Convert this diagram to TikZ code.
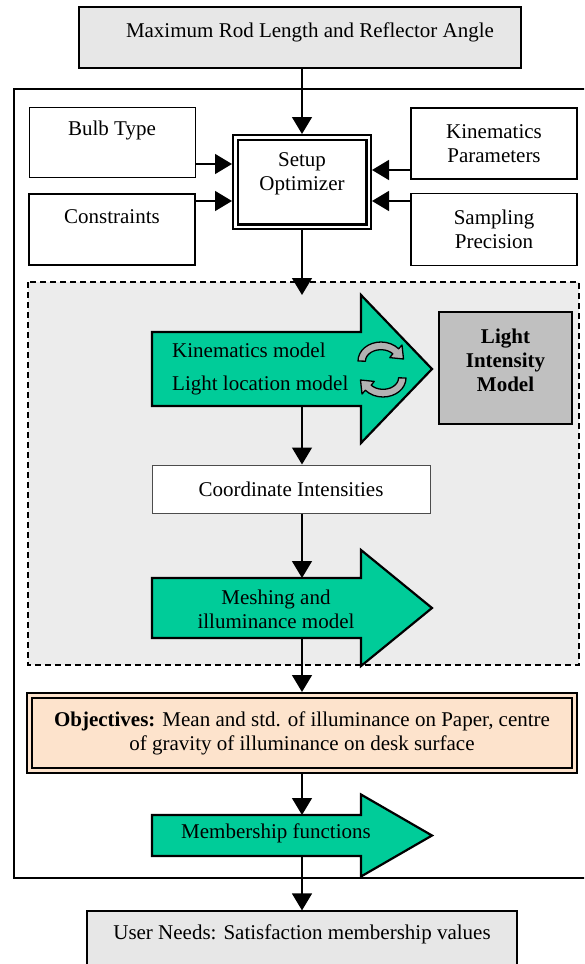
\documentclass[tikz,border=0pt]{standalone}
\usepackage{fontspec}
\setmainfont{Liberation Serif}
\usetikzlibrary{arrows.meta}

\definecolor{flowgreen}{RGB}{0,204,153}
\definecolor{panelgray}{RGB}{236,236,236}
\definecolor{inputgray}{RGB}{231,231,231}
\definecolor{modelgray}{RGB}{192,192,192}
\definecolor{peach}{RGB}{253,227,204}

\tikzset{
  every node/.style={font=\fontsize{21}{24}\selectfont, align=center},
  box/.style={draw, line width=1.5pt, inner sep=0pt},
  link/.style={line width=1.5pt, -{Triangle[width=20pt,length=17pt]}},
  blockarrow/.style={draw, fill=flowgreen, line width=2.2pt, line join=miter},
  rotsign/.pic={
    \filldraw[fill=gray!60, line width=1.3pt, line join=round]
      (-23,0) arc[start angle=180, end angle=320, x radius=23, y radius=19]
      -- (21,-16) -- (22.5,-2) -- (8.8,-3.4) -- (11.8,-7.2)
      arc[start angle=320, end angle=180, x radius=15.5, y radius=11.5] -- cycle;
  }
}

% #1 centre line, #2 half shaft, #3 half head
\newcommand\greenarrow[3]{%
  \draw[blockarrow] (152,#1-#2) -- (361,#1-#2) -- (361,#1-#3) -- (432,#1)
    -- (361,#1+#3) -- (361,#1+#2) -- (152,#1+#2) -- cycle;}

\begin{document}
\begin{tikzpicture}[x=1pt,y=-1pt]
  \useasboundingbox (0,0) rectangle (584,964);
  \clip (0,0) rectangle (584,964);

  \draw[line width=1.6pt] (14,89) rectangle (586,878);
  \draw[fill=panelgray, line width=1.8pt, dash pattern=on 6pt off 4pt] (28,282) rectangle (579,665);

  \node[box, fill=inputgray, minimum width=442, minimum height=61] at (300,37.5) (top) {};
  \node at (310,32) (toptext) {Maximum Rod Length and Reflector Angle};

  \node[box, line width=1pt, minimum width=166, minimum height=70] at (112,142) (bulb) {};
  \node at (112,130) (bulbtext) {Bulb Type};
  \node[box, minimum width=166, minimum height=71] at (112,229.5) (cons) {};
  \node at (112,217) (constext) {Constraints};
  \node[box, minimum width=166, minimum height=71] at (494,143.5) (kinp) {Kinematics\\Parameters};
  \node[box, minimum width=166, minimum height=72] at (494,229.5) (samp) {Sampling\\Precision};

  \node[box, line width=2.2pt, double, double distance=2.3pt, outer sep=3.35pt, fill=white,
        minimum width=133.3, minimum height=89.3] at (302,182) (setup) {};
  \node at (302,174) (setuptext) {Setup\\Optimizer};

  \greenarrow{369}{37}{74}
  \coordinate (kinbot) at (302,406);
  \coordinate (gate) at (302,295);
  \node[anchor=west, inner sep=0pt] at (172,350) (kinm) {Kinematics model};
  \node[anchor=west, inner sep=0pt] at (172,385) (locm) {Light location model};
  \pic at (381,361) {rotsign};
  \pic[rotate=180] at (383,378) {rotsign};

  \node[box, line width=2pt, fill=modelgray, minimum width=133, minimum height=112] at (505.5,368) (light) {};
  \node[font=\fontsize{21}{24}\selectfont\bfseries] at (505.5,360) (lighttext) {Light\\Intensity\\Model};

  \node[box, draw=gray!60!black, line width=1pt, fill=white, minimum width=278, minimum height=48] at (291,489) (coord) {Coordinate Intensities};

  \greenarrow{608}{30}{58}
  \coordinate (meshtop) at (302,578);
  \coordinate (meshbot) at (302,638);
  \node at (276,609) (mesh) {Meshing and\\illuminance model};

  \node[box, double=peach, line width=2.2pt, double distance=2.4pt, outer sep=3.4pt, fill=peach,
        minimum width=545.2, minimum height=75.2] at (302,733) (obj)
        {\textbf{Objectives:} Mean and std. of illuminance on Paper, centre\\of gravity of illuminance on desk surface};

  \greenarrow{835.5}{20.5}{41}
  \coordinate (membtop) at (302,815);
  \coordinate (membbot) at (302,856);
  \node at (276,833) (memb) {Membership functions};

  \node[box, line width=1.2pt, fill=inputgray, minimum width=430, minimum height=64] at (302,943) (need) {};
  \node at (302,934) (needtext) {User Needs: Satisfaction membership values};

  \draw[link] (top.south -| setup.north) -- (setup.north);
  \draw[link] (bulb.east |- 0,164) -- (setup.west |- 0,164);
  \draw[link] (cons.east |- 0,201) -- (setup.west |- 0,201);
  \draw[link] (kinp.west |- 0,170) -- (setup.east |- 0,170);
  \draw[link] (samp.west |- 0,201) -- (setup.east |- 0,201);
  \foreach \x/\y in {setup.south/gate,kinbot/kinbot |- coord.north,coord.south -| meshtop/meshtop,meshbot/obj.north,obj.south/membtop,membbot/need.north} \draw[link] (\x) -- (\y);
\end{tikzpicture}
\end{document}
